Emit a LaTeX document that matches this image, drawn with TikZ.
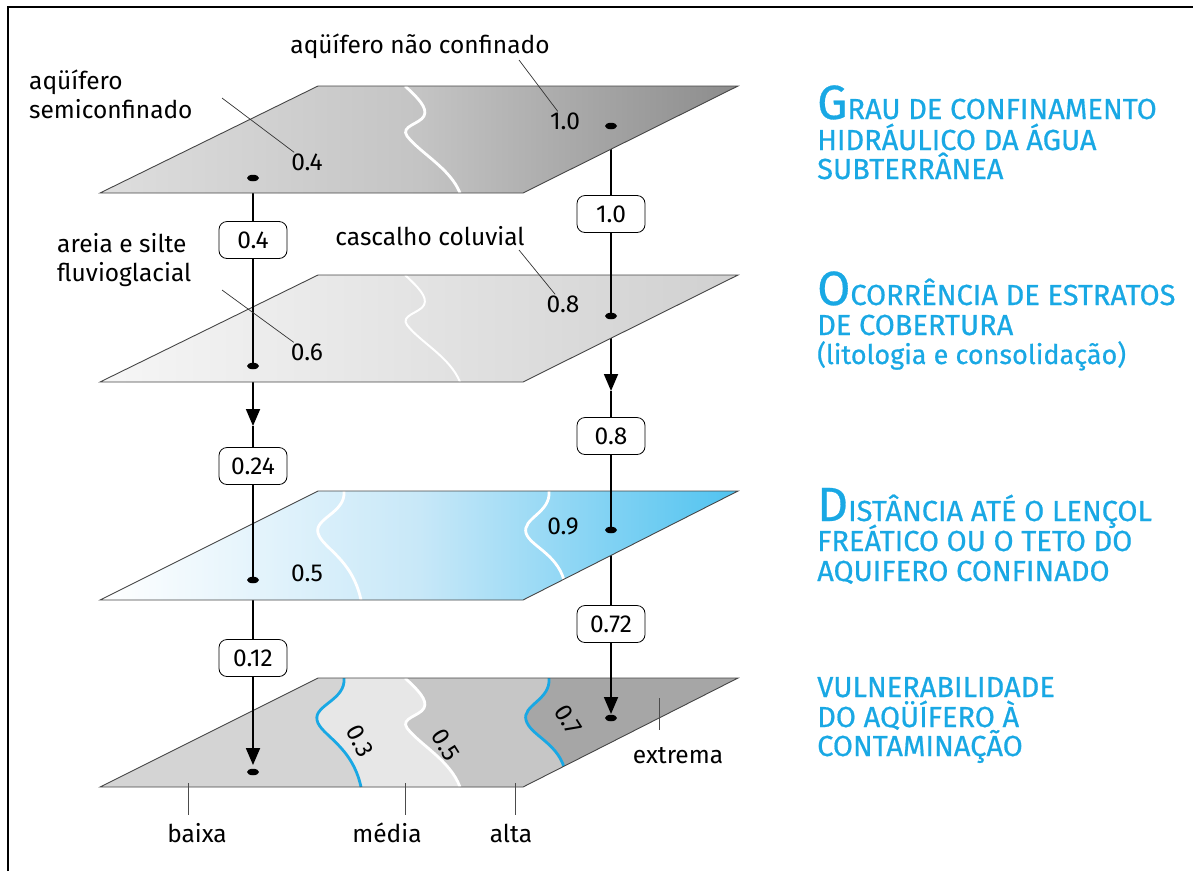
\documentclass[tikz,border=0pt]{standalone}
\usepackage{fontspec}
\setmainfont{Fira Sans}
\newfontfamily\hdfont[FakeBold=0.6]{Fira Sans}
\usetikzlibrary{shapes.geometric,arrows.meta}
\definecolor{hdblue}{RGB}{25,168,228}
\definecolor{edge}{RGB}{70,70,70}
\definecolor{cA}{RGB}{212,212,212}
\definecolor{cB}{RGB}{231,231,231}
\definecolor{cC}{RGB}{198,198,198}
\definecolor{cD}{RGB}{166,166,166}
\newcommand\lblfont{\fontsize{24.5}{29}\selectfont}
\newcommand\hdbig{\fontsize{48}{40}\selectfont}
\newcommand\hdsm{\fontsize{29}{30}\selectfont}
\newcommand\hdlow{\fontsize{27}{30}\selectfont}
% contour paths
\def\cthree{(344,678) .. controls (346,700) and (314,705) .. (317,720) .. controls (320,735) and (352,745) .. (361,787)}
\def\cfive{(405,678) .. controls (418,690) and (428,700) .. (424,708) .. controls (420,716) and (400,718) .. (407,728) .. controls (420,745) and (450,760) .. (460,787)}
\def\cseven{(549,678) .. controls (551,700) and (522,705) .. (526,720) .. controls (530,735) and (556,742) .. (564,767)}
\begin{document}
\begin{tikzpicture}[x=1pt,y=-1pt,
  planeline/.style={draw=edge, line width=0.9},
  valbox/.style={draw=black, line width=0.8, rounded corners=8, fill=white, minimum width=68, minimum height=37, inner xsep=5, inner ysep=2, font=\lblfont},
  dotmark/.style={ellipse, fill=black, minimum width=12, minimum height=6.5, inner sep=0},
  conn/.style={line width=1.8, black},
  tipconn/.style={conn, -{Triangle[width=14pt,length=17pt]}},
  lbl/.style={font=\lblfont, inner sep=1},
  leader/.style={line width=0.7, black!80},
  tick/.style={line width=0.8, black!70},
  hd/.style={anchor=base west, text=hdblue, inner sep=0, font=\hdfont\hdsm},
  contw/.style={white, line width=2.8},
  contb/.style={hdblue, line width=2.8}]

\useasboundingbox (0,0) rectangle (1193,871);
\draw[line width=1.6] (8,871) -- (8,7) -- (1193,7);

% anchor coordinates of the vertical chains
\coordinate (p1L) at (253,178); \coordinate (p1R) at (611,126);
\coordinate (p2L) at (253,366); \coordinate (p2R) at (611,316);
\coordinate (p3L) at (253,580); \coordinate (p3R) at (611,530);
\coordinate (p4L) at (253,772); \coordinate (p4R) at (611,718);
\coordinate (a2L) at (253,426); \coordinate (a2R) at (611,391);
\coordinate (a4L) at (253,765); \coordinate (a4R) at (611,714);

% ---------- plane 4 (vulnerability) ----------
\begin{scope}
  \clip (100,787) -- (523,787) -- (738,678) -- (318,678) -- cycle;
  \fill[cA] (90,670) rectangle (760,800);
  \fill[cB] \cthree -- (800,800) -- (800,670) -- cycle;
  \fill[cC] \cfive -- (800,800) -- (800,670) -- cycle;
  \fill[cD] \cseven -- (800,800) -- (800,670) -- cycle;
  \draw[contb] \cthree;
  \draw[contw] \cfive;
  \draw[contb] \cseven;
\end{scope}
\draw[planeline] (100,787) -- (523,787) -- (738,678) -- (318,678) -- cycle;

% chains 3 -> 4
\node[valbox] (b012) at (253,658) {0.12};
\node[valbox] (b072) at (611,624) {0.72};
\draw[conn] (p3L) -- (b012); \draw[tipconn] (b012) -- (a4L);
\draw[conn] (p3R) -- (b072); \draw[tipconn] (b072) -- (a4R);

% ---------- plane 3 (distance) ----------
\begin{scope}
  \clip (100,600) -- (523,600) -- (738,491) -- (318,491) -- cycle;
  \shade[left color=white, right color={rgb,255:red,80;green,195;blue,240}, middle color={rgb,255:red,200;green,232;blue,248}] (100,491) rectangle (738,600);
  \draw[contw] (344,491) .. controls (346,513) and (314,518) .. (318,533) .. controls (322,548) and (352,558) .. (361,600);
  \draw[contw] (549,491) .. controls (551,513) and (522,518) .. (526,533) .. controls (530,546) and (556,553) .. (564,580);
\end{scope}
\draw[planeline] (100,600) -- (523,600) -- (738,491) -- (318,491) -- cycle;

% chains 2 -> 3
\node[valbox] (b024) at (253,466) {0.24};
\node[valbox] (b08) at (611,436) {0.8};
\draw[tipconn] (p2L) -- (a2L); \draw[conn] (a2L) -- (b024); \draw[conn] (b024) -- (p3L);
\draw[tipconn] (p2R) -- (a2R); \draw[conn] (a2R) -- (b08); \draw[conn] (b08) -- (p3R);

% ---------- plane 2 (cover strata) ----------
\begin{scope}
  \clip (100,382) -- (523,382) -- (738,275) -- (318,275) -- cycle;
  \shade[left color={rgb,255:red,246;green,246;blue,246}, right color={rgb,255:red,208;green,208;blue,208}] (100,275) rectangle (738,382);
  \draw[white, line width=2] (405,275) .. controls (418,287) and (428,297) .. (424,305) .. controls (420,313) and (400,315) .. (407,325) .. controls (420,342) and (450,357) .. (460,382);
\end{scope}
\draw[planeline] (100,382) -- (523,382) -- (738,275) -- (318,275) -- cycle;

% chains 1 -> 2
\node[valbox] (b04) at (253,240) {0.4};
\node[valbox] (b10) at (611,214) {1.0};
\draw[conn] (p1L) -- (b04); \draw[conn] (b04) -- (p2L);
\draw[conn] (p1R) -- (b10); \draw[conn] (b10) -- (p2R);

% ---------- plane 1 (confinement) ----------
\begin{scope}
  \clip (100,193) -- (523,193) -- (738,86) -- (318,86) -- cycle;
  \shade[left color={rgb,255:red,222;green,222;blue,222}, right color={rgb,255:red,140;green,140;blue,140}, middle color={rgb,255:red,196;green,196;blue,196}] (100,86) rectangle (738,193);
  \draw[contw] (405,86) .. controls (418,98) and (428,108) .. (424,116) .. controls (420,124) and (400,126) .. (407,136) .. controls (420,153) and (450,168) .. (460,193);
\end{scope}
\draw[planeline] (100,193) -- (523,193) -- (738,86) -- (318,86) -- cycle;

% dots
\foreach \p in {p1L,p1R,p2L,p2R,p3L,p3R,p4L,p4R}{\node[dotmark] (d\p) at (\p) {};}

% values on planes
\node[lbl] (v1L) at (307,162) {0.4};
\node[lbl] (v1R) at (565,121) {1.0};
\node[lbl] (v2L) at (307,352) {0.6};
\node[lbl] (v2R) at (563,304) {0.8};
\node[lbl] (v3L) at (307,573) {0.5};
\node[lbl] (v3R) at (563,526) {0.9};
\node[lbl, rotate=-62] (v43) at (360,741) {0.3};
\node[lbl, rotate=-58] (v45) at (446,745) {0.5};
\node[lbl, rotate=-58] (v47) at (568,720) {0.7};

% annotations
\node[lbl, anchor=west, align=left] (tsemi) at (28,94) {aqüífero\\semiconfinado};
\node[lbl] (tnc) at (420,46) {aqüífero não confinado};
\node[lbl, anchor=west, align=left] (tareia) at (56,260) {areia e silte\\fluvioglacial};
\node[lbl] (tcasc) at (430,236) {cascalho coluvial};
\coordinate (ls) at (222,98);  \draw[leader] (ls) -- (v1L);
\coordinate (lnc) at (519,60); \draw[leader] (lnc) -- (v1R);
\coordinate (lar) at (222,290); \draw[leader] (lar) -- (v2L);
\coordinate (lca) at (519,250); \draw[leader] (lca) -- (v2R);

% class labels
\node[lbl] (lbx) at (197,833) {baixa};
\node[lbl] (lmd) at (387,833) {média};
\node[lbl] (lal) at (511,833) {alta};
\node[lbl] (lex) at (678,756) {extrema};
\coordinate (tbx1) at (188,783); \coordinate (tbx2) at (188,815);
\coordinate (tmd1) at (405,783); \coordinate (tmd2) at (405,815);
\coordinate (tal1) at (515,783); \coordinate (tal2) at (515,815);
\coordinate (tex1) at (659,698); \coordinate (tex2) at (659,730);
\draw[tick] (tbx1) -- (tbx2);
\draw[tick] (tmd1) -- (tmd2);
\draw[tick] (tal1) -- (tal2);
\draw[tick] (tex1) -- (tex2);

% headings
\node[hd] (h1a) at (817,119) {{\hdbig G}RAU DE CONFINAMENTO};
\node[hd] (h1b) at (817,150) {HIDRÁULICO DA ÁGUA};
\node[hd] (h1c) at (817,179) {SUBTERRÂNEA};
\node[hd] (h2a) at (817,305) {{\hdbig O}CORRÊNCIA DE ESTRATOS};
\node[hd] (h2b) at (817,335) {DE COBERTURA};
\node[hd] (h2c) at (817,364) {\hdlow(litologia e consolidação)};
\node[hd] (h3a) at (817,521) {{\hdbig D}ISTÂNCIA ATÉ O LENÇOL};
\node[hd] (h3b) at (817,551) {FREÁTICO OU O TETO DO};
\node[hd] (h3c) at (817,581) {AQUIFERO CONFINADO};
\node[hd] (h4a) at (817,697) {VULNERABILIDADE};
\node[hd] (h4b) at (817,727) {DO AQÜÍFERO À};
\node[hd] (h4c) at (817,756) {CONTAMINAÇÃO};
\end{tikzpicture}
\end{document}
